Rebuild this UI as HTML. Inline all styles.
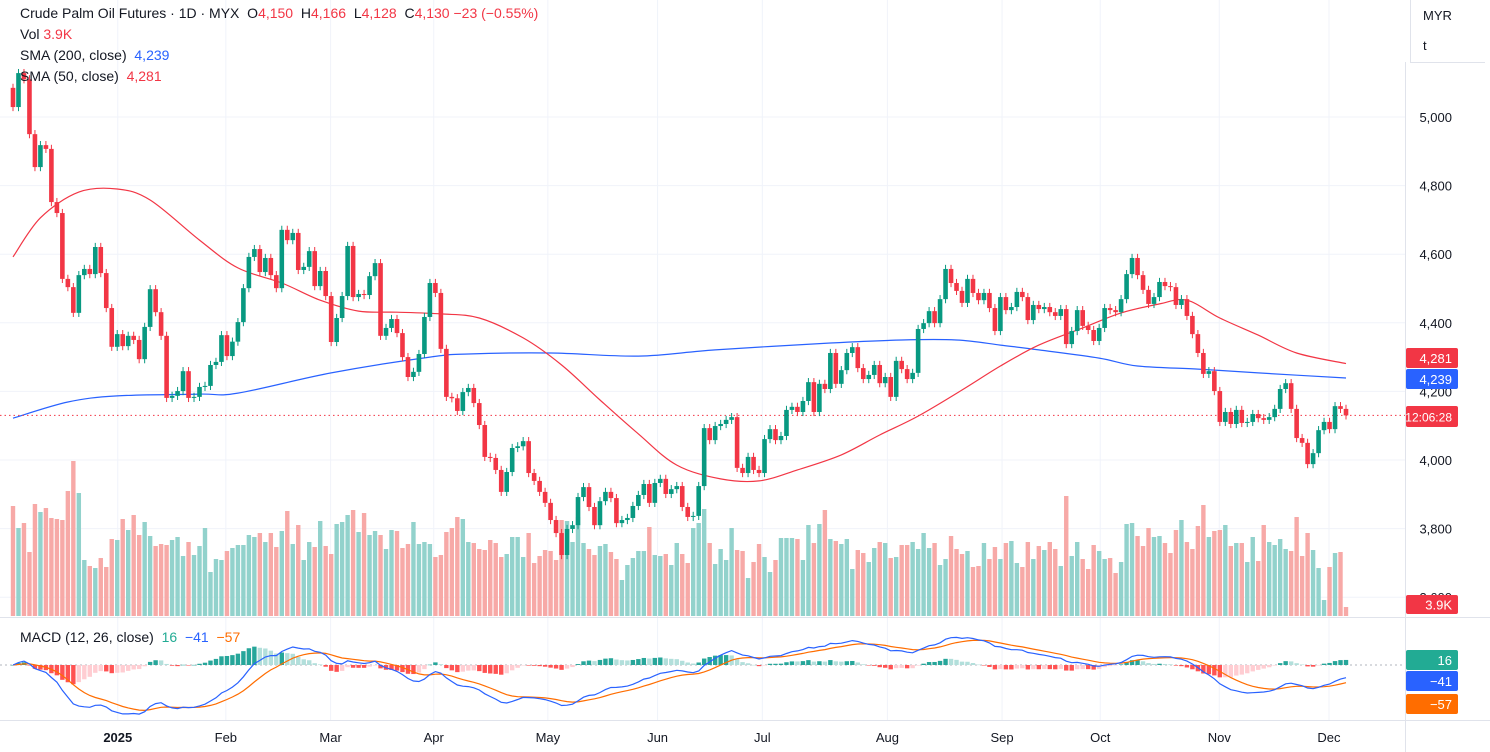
<!DOCTYPE html>
<html><head><meta charset="utf-8">
<style>
html,body{margin:0;padding:0;background:#fff;}
body{width:1490px;height:752px;overflow:hidden;font-family:"Liberation Sans",sans-serif;position:relative;}
.hdr{position:absolute;left:20px;font-size:14px;color:#131722;white-space:nowrap;}
.r{color:#f23645}.b{color:#2962ff}.t{color:#22ab94}.o{color:#ff6d00}
</style></head>
<body>
<svg id="chart" width="1490" height="752" style="position:absolute;left:0;top:0"></svg>
<div class="hdr" style="top:5px">Crude Palm Oil Futures · 1D · MYX &nbsp;O<span class="r">4,150</span> &nbsp;H<span class="r">4,166</span> &nbsp;L<span class="r">4,128</span> &nbsp;C<span class="r">4,130</span> <span class="r">−23 (−0.55%)</span></div>
<div class="hdr" style="top:26px">Vol <span class="r">3.9K</span></div>
<div class="hdr" style="top:47px">SMA (200, close) &nbsp;<span class="b">4,239</span></div>
<div class="hdr" style="top:68px">SMA (50, close) &nbsp;<span class="r">4,281</span></div>
<div class="hdr" style="top:629px">MACD (12, 26, close) &nbsp;<span class="t">16</span> &nbsp;<span class="b">−41</span> &nbsp;<span class="o">−57</span></div>
<div style="position:absolute;left:1410px;top:0;width:74px;height:62px;border-left:1px solid #e0e3eb;border-bottom:1px solid #e0e3eb;font-size:13px;color:#131722"><div style="position:absolute;left:12px;top:8px">MYR</div><div style="position:absolute;left:12px;top:38px">t</div></div>
<script>
const closes=[5029,5128,5110,4950,4854,4918,4907,4752,4720,4528,4504,4429,4539,4557,4542,4621,4545,4443,4330,4367,4332,4362,4350,4294,4388,4498,4431,4362,4181,4187,4201,4259,4181,4184,4213,4216,4277,4286,4364,4303,4345,
4402,4501,4592,4615,4548,4589,4539,4501,4671,4641,4662,4554,4563,4609,4507,4551,4478,4344,4414,4478,4624,4475,4484,4481,4536,4574,4362,4385,4411,4370,4300,4242,4257,4309,4417,4516,4487,4324,
4184,4180,4143,4198,4210,4166,4102,4009,4006,3971,3907,3965,4035,4040,4055,3962,3939,3907,3875,3825,3787,3723,3799,3810,3892,3921,3863,3810,3880,3907,3889,3816,3825,3831,3866,3898,3930,3875,3933,3945,3901,3915,3924,3863,3834,3837,3924,
4093,4058,4099,4105,4117,4125,3977,3962,4009,3971,3962,4061,4090,4058,4070,4146,4155,4140,4172,4227,4140,4222,4207,4312,4222,4262,4312,4329,4268,4236,4248,4277,4224,4242,4184,4289,4265,4236,4254,4382,4399,4434,4399,4469,4557,4516,
4493,4458,4528,4487,4466,4487,4443,4376,4475,4437,4446,4490,4475,4408,4452,4440,4446,4431,4420,4440,4338,4376,4437,4391,4379,4347,4385,4443,4437,4431,4469,4542,4589,4539,4496,4455,4475,4519,4507,4504,4452,4469,
4420,4367,4312,4251,4259,4201,4111,4140,4105,4146,4108,4111,4134,4122,4117,4125,4149,4207,4224,4149,4064,4050,3988,4020,4087,4111,4090,4157,4149,4130];
const firstOpen=5085;
const volumes=[330,264,279,192,336,312,324,294,291,288,375,465,369,168,150,144,174,147,231,228,291,258,303,243,282,240,210,216,213,228,237,180,222,183,210,264,132,171,168,195,204,213,213,243,237,249,222,249,207,255,315,216,273,168,222,207,285,210,186,276,282,303,318,252,309,243,255,243,201,258,255,204,216,282,216,222,216,177,183,252,264,297,291,
222,219,201,198,228,219,177,186,237,237,177,249,159,180,198,195,168,288,285,222,297,219,201,183,210,216,192,171,108,153,174,195,195,267,183,180,186,153,219,186,159,264,279,321,219,156,201,168,264,198,195,114,162,216,177,132,168,234,234,234,231,168,273,219,276,318,231,225,216,231,141,198,189,162,204,222,219,174,177,213,213,
222,201,249,204,219,153,171,240,201,186,195,147,150,219,171,207,171,219,225,159,147,222,171,210,198,222,201,150,360,180,222,171,141,213,195,171,174,129,162,276,279,240,210,264,237,240,219,189,258,288,222,201,270,333,237,255,258,273,210,219,219,162,237,165,273,222,213,231,201,195,297,180,249,198,144,48,147,189,192,27];
const sma50Idx=[0,5,12,19,25,34,41,49,56,63,70,78,85,93,100,107,114,121,129,136,143,151,158,165,173,180,187,195,202,209,214,220,227,234,243];
const sma50Val=[4592,4706,4781,4790,4758,4641,4560,4516,4466,4434,4431,4426,4414,4356,4277,4175,4076,3985,3945,3939,3971,4015,4073,4128,4204,4274,4335,4385,4429,4455,4466,4414,4364,4312,4281];
const sma200Idx=[0,10,19,34,41,58,76,83,98,114,128,149,162,172,180,187,198,205,216,227,243];
const sma200Val=[4122,4169,4187,4192,4195,4254,4300,4309,4312,4303,4321,4341,4350,4350,4335,4321,4297,4274,4265,4254,4239];
const priceTicks=[5000,4800,4600,4400,4200,4000,3800,3600];
const priceTickLabels=["5,000","4,800","4,600","4,400","4,200","4,000","3,800","3,600"];
const monthIdx=[19.1,38.8,57.9,76.7,97.5,117.5,136.6,159.4,180.3,198.2,219.9,239.9];
const monthLabels=["2025","Feb","Mar","Apr","May","Jun","Jul","Aug","Sep","Oct","Nov","Dec"];

const NS="http://www.w3.org/2000/svg";
const svg=document.getElementById('chart');
const n=closes.length;
const step=(1346-13)/(n-1);
const X=i=>13+i*step;
const Y=p=>117+(5000-p)*0.343;
const VY=v=>616-v/3;
const MY=m=>665-m*0.31;
const GREEN='#089981',RED='#f23645';
function mk(tag,attrs,parent){const e=document.createElementNS(NS,tag);for(const k in attrs)e.setAttribute(k,attrs[k]);(parent||svg).appendChild(e);return e;}

const grid=mk('g',{});


priceTicks.forEach(p=>{mk('line',{x1:0,x2:1405,y1:Y(p),y2:Y(p),stroke:'#f0f3fa','stroke-width':1},grid);});
monthIdx.forEach(m=>{mk('line',{x1:X(m),x2:X(m),y1:0,y2:720,stroke:'#f0f3fa','stroke-width':1},grid);});
mk('line',{x1:0,x2:1490,y1:617.5,y2:617.5,stroke:'#e0e3eb'},grid);
mk('line',{x1:0,x2:1490,y1:720.5,y2:720.5,stroke:'#e0e3eb'},grid);
mk('line',{x1:1405.5,x2:1405.5,y1:62,y2:752,stroke:'#e0e3eb'},grid);

const vg=mk('g',{});


for(let i=0;i<n&&i<volumes.length;i++){
  const o=i?closes[i-1]:firstOpen,c=closes[i];
  const r=mk('rect',{x:X(i)-2.2,y:VY(volumes[i]),width:4.4,height:volumes[i]/3,fill:c>=o?'#92d2cc':'#f7a9a7'},vg);
  
  
}

function smaPath(idx,val,color,name){
  const pts=idx.map((k,j)=>[X(k),Y(val[j])]);
  let d='M'+pts[0][0].toFixed(1)+','+pts[0][1].toFixed(1);
  for(let j=0;j<pts.length-1;j++){
    const p0=pts[j-1]||pts[j],p1=pts[j],p2=pts[j+1],p3=pts[j+2]||p2;
    const c1=[p1[0]+(p2[0]-p0[0])/6,p1[1]+(p2[1]-p0[1])/6];
    const c2=[p2[0]-(p3[0]-p1[0])/6,p2[1]-(p3[1]-p1[1])/6];
    d+='C'+c1[0].toFixed(1)+','+c1[1].toFixed(1)+' '+c2[0].toFixed(1)+','+c2[1].toFixed(1)+' '+p2[0].toFixed(1)+','+p2[1].toFixed(1);
  }
  const p=mk('path',{d:d,fill:'none',stroke:color,'stroke-width':1.2,'stroke-linejoin':'round'});
  
  
}
smaPath(sma200Idx,sma200Val,'#2962ff','sma200-line');
smaPath(sma50Idx,sma50Val,'#f23645','sma50-line');

const pl=mk('line',{x1:0,x2:1405,y1:Y(closes[n-1]),y2:Y(closes[n-1]),stroke:RED,'stroke-dasharray':'1.5,3','stroke-width':1});



const cg=mk('g',{});


for(let i=0;i<n;i++){
  const o=i?closes[i-1]:firstOpen,c=closes[i];
  const col=c>=o?GREEN:RED;
  const hi=Math.max(o,c)+12,lo=Math.min(o,c)-12;
  const g=mk('g',{},cg);
  
  
  mk('line',{x1:X(i),x2:X(i),y1:Y(hi),y2:Y(lo),stroke:col,'stroke-width':1},g);
  const top=Math.min(Y(o),Y(c)),h=Math.max(1,Math.abs(Y(o)-Y(c)));
  mk('rect',{x:X(i)-2.3,y:top,width:4.6,height:h,fill:col},g);
}

const macd=[],sig=[];
let e12=closes[0],e26=closes[0],s=0;
for(let i=0;i<n;i++){
  e12=closes[i]*2/13+e12*11/13; e26=closes[i]*2/27+e26*25/27;
  const m=e12-e26; s=i?m*0.2+s*0.8:m; macd.push(m); sig.push(s);
}
const mg=mk('g',{});


mk('line',{x1:0,x2:1405,y1:MY(0),y2:MY(0),stroke:'#b2b5be','stroke-dasharray':'2,3','stroke-width':1},mg);
for(let i=0;i<n;i++){
  const h=macd[i]-sig[i],ph=i?macd[i-1]-sig[i-1]:0;
  let col=h>=0?(h>=ph?'#26a69a':'#b2dfdb'):(h<ph?'#ff5252':'#ffcdd2');
  const y0=MY(0),y1=MY(h);
  const r=mk('rect',{x:X(i)-2.2,y:Math.min(y0,y1),width:4.4,height:Math.max(0.5,Math.abs(y1-y0)),fill:col},mg);
  
  
}
function line(arr,color,name){
  let d='';arr.forEach((v,i)=>{d+=(i?'L':'M')+X(i).toFixed(1)+','+MY(v).toFixed(1);});
  const p=mk('path',{d:d,fill:'none',stroke:color,'stroke-width':1.2});
  
  
}
line(sig,'#ff6d00','macd-signal-line');
line(macd,'#2962ff','macd-line');

priceTicks.forEach((p,j)=>{
  const t=mk('text',{x:1452,y:Y(p)+5,'text-anchor':'end','font-size':13,fill:'#131722','font-family':'Liberation Sans, sans-serif'});
  t.textContent=priceTickLabels[j];
  
  
});
monthIdx.forEach((m,j)=>{
  const t=mk('text',{x:X(m),y:742,'text-anchor':'middle','font-size':13,fill:'#131722','font-weight':j===0?'bold':'normal','font-family':'Liberation Sans, sans-serif'});
  t.textContent=monthLabels[j];
  
  
});
function badge(y,h,bg,txt,name,fs){
  const g=mk('g',{});
  
  
  mk('rect',{x:1406,y:y,width:52,height:h,fill:bg,rx:2},g);
  const t=mk('text',{x:1452,y:y+h/2+5,'text-anchor':'end','font-size':fs||13,fill:'#fff','font-family':'Liberation Sans, sans-serif'},g);
  t.textContent=txt;
}
badge(348,20,'#f23645','4,281','sma50-badge');
badge(369,20,'#2962ff','4,239','sma200-badge');
badge(406,21,'#f23645','12:06:28','countdown-badge',12);
badge(595,19,'#f23645','3.9K','volume-badge');
badge(650,20,'#22ab94','16','macd-hist-badge');
badge(671,20,'#2962ff','−41','macd-badge');
badge(694,20,'#ff6d00','−57','signal-badge');
</script>
</body></html>
